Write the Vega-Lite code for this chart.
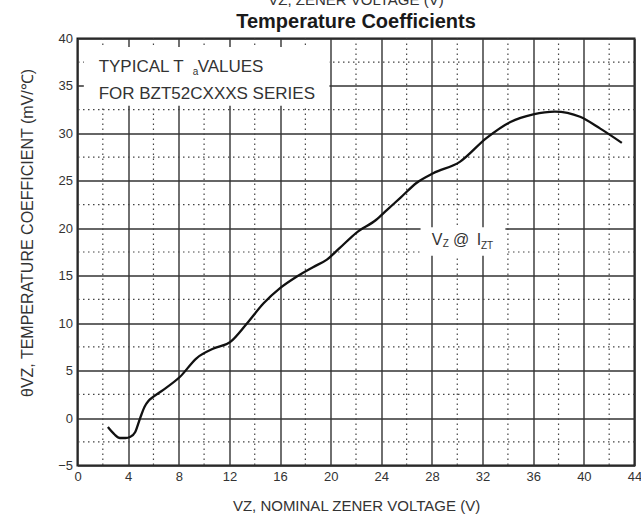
{
  "$schema": "https://vega.github.io/schema/vega-lite/v6.json",
  "width": 557,
  "height": 427,
  "autosize": "none",
  "padding": {"left": 77.5, "top": 38.5, "right": 6.5, "bottom": 55.5},
  "background": "white",
  "title": {
    "text": "VZ, ZENER VOLTAGE (V)",
    "subtitle": "Temperature Coefficients",
    "font": "Liberation Sans",
    "fontSize": 15,
    "fontWeight": "normal",
    "color": "#333",
    "subtitleFont": "Liberation Sans",
    "subtitleFontSize": 20,
    "subtitleFontWeight": "bold",
    "subtitleColor": "#1a1a1a",
    "subtitlePadding": 4,
    "anchor": "middle",
    "frame": "group",
    "offset": 1
  },
  "config": {
    "view": {"stroke": "#111", "strokeWidth": 2},
    "axis": {
      "labelFont": "Liberation Sans",
      "titleFont": "Liberation Sans",
      "labelColor": "#333",
      "titleColor": "#333",
      "titleFontWeight": "normal",
      "domain": false,
      "ticks": false
    }
  },
  "layer": [
    {
      "data": {"values": [{"x": 2}, {"x": 6}, {"x": 10}, {"x": 14}, {"x": 18}, {"x": 22}, {"x": 26}, {"x": 30}, {"x": 34}, {"x": 38}, {"x": 42}]},
      "mark": {"type": "rule", "color": "#444", "strokeWidth": 1.2, "strokeDash": [1.5, 3.5]},
      "encoding": {
        "x": {"field": "x", "type": "quantitative", "title": "VZ, NOMINAL ZENER VOLTAGE (V)"}
      }
    },
    {
      "data": {"values": [{"y": -2.5}, {"y": 2.5}, {"y": 7.5}, {"y": 12.5}, {"y": 17.5}, {"y": 22.5}, {"y": 27.5}, {"y": 32.5}, {"y": 37.5}]},
      "mark": {"type": "rule", "color": "#444", "strokeWidth": 1.2, "strokeDash": [1.5, 3.5]},
      "encoding": {
        "y": {"field": "y", "type": "quantitative", "title": "θVZ, TEMPERATURE COEFFICIENT (mV/℃)"}
      }
    },
    {
      "data": {"values": [
        {"x": 0.5, "x2": 19.9, "y": 39.1, "y2": 32.9},
        {"x": 27.1, "x2": 33.8, "y": 20.1, "y2": 17.1}
      ]},
      "mark": {"type": "rect", "color": "white"},
      "encoding": {
        "x": {"field": "x", "type": "quantitative", "title": "VZ, NOMINAL ZENER VOLTAGE (V)"},
        "x2": {"field": "x2"},
        "y": {"field": "y", "type": "quantitative", "title": "θVZ, TEMPERATURE COEFFICIENT (mV/℃)"},
        "y2": {"field": "y2"}
      }
    },
    {
      "data": {"values": [
        {"v": 2.4, "t": -0.95}, {"v": 2.9, "t": -1.7}, {"v": 3.35, "t": -2.1}, {"v": 3.8, "t": -2.1},
        {"v": 4.15, "t": -2.0}, {"v": 4.55, "t": -1.5}, {"v": 4.95, "t": 0.0}, {"v": 5.3, "t": 1.2},
        {"v": 5.6, "t": 1.8}, {"v": 6.0, "t": 2.25}, {"v": 6.75, "t": 2.95}, {"v": 8.1, "t": 4.35},
        {"v": 9.4, "t": 6.3}, {"v": 10.7, "t": 7.3}, {"v": 12.05, "t": 8.0}, {"v": 13.4, "t": 10.0},
        {"v": 14.7, "t": 12.1}, {"v": 16.0, "t": 13.7}, {"v": 17.3, "t": 14.9}, {"v": 18.6, "t": 15.9},
        {"v": 19.7, "t": 16.7}, {"v": 20.7, "t": 17.9}, {"v": 22.0, "t": 19.5}, {"v": 23.6, "t": 20.9},
        {"v": 24.5, "t": 22.0}, {"v": 25.5, "t": 23.2}, {"v": 26.8, "t": 24.8}, {"v": 28.1, "t": 25.8},
        {"v": 30.2, "t": 27.0}, {"v": 32.3, "t": 29.5}, {"v": 34.2, "t": 31.2}, {"v": 36.0, "t": 32.0},
        {"v": 37.7, "t": 32.3}, {"v": 39.7, "t": 31.75}, {"v": 41.3, "t": 30.5}, {"v": 43.0, "t": 29.0}
      ]},
      "mark": {"type": "line", "color": "#111", "strokeWidth": 2.3, "interpolate": "monotone"},
      "encoding": {
        "x": {
          "field": "v", "type": "quantitative",
          "scale": {"domain": [0, 44], "nice": false, "zero": false},
          "title": "VZ, NOMINAL ZENER VOLTAGE (V)",
          "axis": {
            "values": [0, 4, 8, 12, 16, 20, 24, 28, 32, 36, 40, 44],
            "grid": true, "gridColor": "#333", "gridWidth": 1.4,
            "labelFontSize": 13, "labelPadding": 5, "labelFlush": false,
            "titleFontSize": 15, "titleY": 40, "titleBaseline": "middle"
          }
        },
        "y": {
          "field": "t", "type": "quantitative",
          "scale": {"domain": [-5, 40], "nice": false, "zero": false},
          "title": "θVZ, TEMPERATURE COEFFICIENT (mV/℃)",
          "axis": {
            "values": [-5, 0, 5, 10, 15, 20, 25, 30, 35, 40],
            "grid": true, "gridColor": "#333", "gridWidth": 1.4,
            "labelFontSize": 13, "labelPadding": 5, "labelFlush": false,
            "titleFontSize": 16, "titleAngle": 270, "titleX": -50, "titleY": 194,
            "titleAlign": "center", "titleBaseline": "middle"
          }
        }
      }
    },
    {
      "data": {"values": [
        {"x": 1.67, "y": 36.46, "label": "TYPICAL T"},
        {"x": 9.49, "y": 36.46, "label": "VALUES"},
        {"x": 1.67, "y": 33.58, "label": "FOR BZT52CXXXS SERIES"}
      ]},
      "mark": {"type": "text", "align": "left", "baseline": "alphabetic", "font": "Liberation Sans", "fontSize": 17, "color": "#333"},
      "encoding": {
        "x": {"field": "x", "type": "quantitative", "title": "VZ, NOMINAL ZENER VOLTAGE (V)"},
        "y": {"field": "y", "type": "quantitative", "title": "θVZ, TEMPERATURE COEFFICIENT (mV/℃)"},
        "text": {"field": "label"}
      }
    },
    {
      "data": {"values": [
        {"x": 27.98, "y": 18.23, "label": "V"},
        {"x": 29.66, "y": 18.23, "label": "@"},
        {"x": 31.53, "y": 18.23, "label": "I"}
      ]},
      "mark": {"type": "text", "align": "left", "baseline": "alphabetic", "font": "Liberation Sans", "fontSize": 16, "color": "#333"},
      "encoding": {
        "x": {"field": "x", "type": "quantitative", "title": "VZ, NOMINAL ZENER VOLTAGE (V)"},
        "y": {"field": "y", "type": "quantitative", "title": "θVZ, TEMPERATURE COEFFICIENT (mV/℃)"},
        "text": {"field": "label"}
      }
    },
    {
      "data": {"values": [
        {"x": 9.1, "y": 36.2, "label": "a"},
        {"x": 28.85, "y": 18.0, "label": "Z"},
        {"x": 31.87, "y": 17.8, "label": "ZT"}
      ]},
      "mark": {"type": "text", "align": "left", "baseline": "alphabetic", "font": "Liberation Sans", "fontSize": 10, "color": "#333"},
      "encoding": {
        "x": {"field": "x", "type": "quantitative", "title": "VZ, NOMINAL ZENER VOLTAGE (V)"},
        "y": {"field": "y", "type": "quantitative", "title": "θVZ, TEMPERATURE COEFFICIENT (mV/℃)"},
        "text": {"field": "label"}
      }
    }
  ]
}
